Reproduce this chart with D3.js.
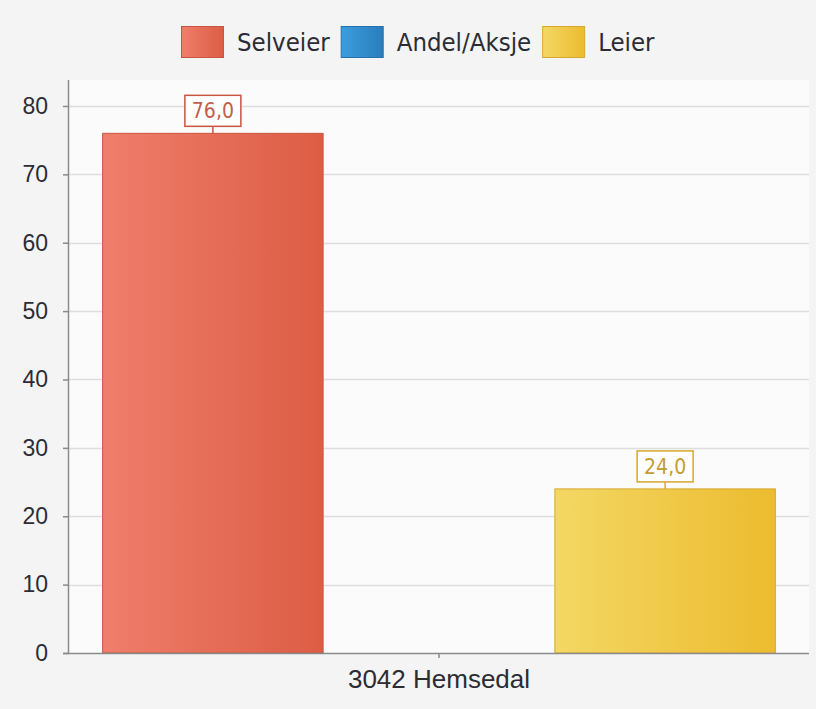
<!DOCTYPE html>
<html>
<head>
<meta charset="utf-8">
<script src="https://cdn.jsdelivr.net/npm/d3@7"></script>
<style>
  html, body { margin: 0; padding: 0; background: #f4f4f4; }
  svg { display: block; font-family: "DejaVu Sans Condensed", "Open Sans", sans-serif; }
  .tick text { fill: #2c2c34; }
</style>
</head>
<body>
<svg id="chart" width="816" height="709"></svg>
<script>
// data
const categories = ['3042 Hemsedal'];
const series = ['Selveier', 'Andel/Aksje', 'Leier'];
const values = [76.0, 0, 24.0];
const yTicks = [0, 10, 20, 30, 40, 50, 60, 70, 80];

const colors = {
  'Selveier':    { a: '#ef7e6c', b: '#dc5d44', line: '#c9543f', text: '#c0604c' },
  'Andel/Aksje': { a: '#3c9edd', b: '#2a7dbd', line: '#2470a8', text: '#2a7dbd' },
  'Leier':       { a: '#f3d864', b: '#ecbb2f', line: '#d6a82e', text: '#c49c2f' }
};

let svg = d3.select('#chart');
let width = 816, height = 709;
let margin = { left: 69, right: 7, top: 80, bottom: 56 };
let plotW = width - margin.left - margin.right;
let plotH = height - margin.top - margin.bottom;

let defs = svg.append('defs');
series.forEach(function(s, i) {
  let g = defs.append('linearGradient').attr('id', 'grad' + i)
      .attr('x1', '0%').attr('x2', '100%').attr('y1', '0%').attr('y2', '0%');
  g.append('stop').attr('offset', '0%').attr('stop-color', colors[s].a);
  g.append('stop').attr('offset', '100%').attr('stop-color', colors[s].b);
});

let y = d3.scaleLinear().domain([0, 83.8]).range([plotH, 0]);
let x0 = d3.scaleBand().domain(categories).range([0, plotW]).paddingInner(0).paddingOuter(0.05);
let x1 = d3.scaleBand().domain(series).range([0, x0.bandwidth()]).paddingInner(0.025);

let plot = svg.append('g').attr('transform', `translate(${margin.left},${margin.top})`);

plot.append('rect')
    .attr('width', plotW).attr('height', plotH)
    .attr('fill', '#fbfbfb');

// grid
plot.append('g')
    .selectAll('line')
    .data(yTicks.filter(d => d > 0))
    .enter().append('line')
    .attr('x1', 0).attr('x2', plotW)
    .attr('y1', d => Math.round(y(d)) + 0.5).attr('y2', d => Math.round(y(d)) + 0.5)
    .attr('stroke', '#dedede').attr('stroke-width', 1.5);

// y axis
let yAxis = plot.append('g')
    .call(d3.axisLeft(y).tickValues(yTicks).tickSize(6).tickPadding(15).tickFormat(d3.format('d')));
yAxis.select('.domain').attr('stroke', '#8a8a8a').attr('stroke-width', 1.5).attr('d', `M-0.5,${plotH}V0`);
yAxis.selectAll('.tick line').attr('stroke', '#8a8a8a').attr('stroke-width', 1.5);
yAxis.selectAll('.tick text').attr('font-size', 23).attr('font-family', null);

// bars
let group = plot.selectAll('.cat')
    .data(categories)
    .enter().append('g')
    .attr('class', 'cat')
    .attr('transform', d => `translate(${x0(d)},0)`);

let barData = series.map((s, i) => ({ key: s, value: values[i], idx: i }));

group.selectAll('rect.bar')
    .data(barData.filter(d => d.value > 0))
    .enter().append('rect')
    .attr('class', 'bar')
    .attr('x', d => x1(d.key))
    .attr('y', d => y(d.value))
    .attr('width', x1.bandwidth())
    .attr('height', d => y(0) - y(d.value))
    .attr('fill', d => `url(#grad${d.idx})`)
    .attr('stroke', d => colors[d.key].line)
    .attr('stroke-width', 1);

// value labels
let fmt = v => d3.format('.1f')(v).replace('.', ',');
let labels = group.selectAll('g.lbl')
    .data(barData.filter(d => d.value > 0))
    .enter().append('g')
    .attr('class', 'lbl')
    .attr('transform', d => `translate(${x1(d.key) + x1.bandwidth() / 2},${y(d.value)})`);

labels.append('line')
    .attr('x1', 0).attr('x2', 0).attr('y1', 0).attr('y2', -7)
    .attr('stroke', d => colors[d.key].line).attr('stroke-width', 1.5);
labels.append('rect')
    .attr('x', -28).attr('y', -38).attr('width', 56).attr('height', 31)
    .attr('fill', '#ffffff')
    .attr('stroke', d => colors[d.key].line).attr('stroke-width', 1.5);
labels.append('text')
    .attr('text-anchor', 'middle')
    .attr('y', -15)
    .attr('font-size', 21)
    .attr('fill', d => colors[d.key].text)
    .text(d => fmt(d.value));

// x axis
let xAxis = plot.append('g')
    .attr('transform', `translate(0,${plotH})`)
    .call(d3.axisBottom(x0).tickSize(5).tickPadding(12));
xAxis.select('.domain').attr('stroke', '#8a8a8a').attr('stroke-width', 1.5).attr('d', `M-6,0.5H${plotW}`);
xAxis.selectAll('.tick line').attr('stroke', '#8a8a8a').attr('stroke-width', 1.5);
xAxis.selectAll('.tick text').attr('font-size', 26).attr('font-family', null);

// legend
let legend = svg.append('g').attr('class', 'legend');
let lx = 0;
series.forEach(function(s, i) {
  let item = legend.append('g').attr('transform', `translate(${lx},0)`);
  item.append('rect')
      .attr('x', 0.5).attr('y', 0.5).attr('width', 42).attr('height', 31)
      .attr('fill', `url(#grad${i})`)
      .attr('stroke', colors[s].line).attr('stroke-width', 1);
  let t = item.append('text')
      .attr('x', 56).attr('y', 25)
      .attr('font-size', 25.5)
      .attr('fill', '#2c2c34')
      .text(s);
  lx += 56 + t.node().getComputedTextLength() + 11;
});
let legendW = lx - 11;
legend.attr('transform', `translate(${Math.round(418 - legendW / 2)},26)`);
</script>
</body>
</html>
